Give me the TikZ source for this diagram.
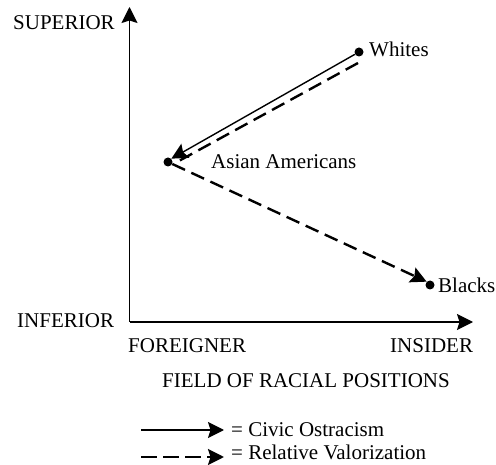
\documentclass[tikz,border=0pt]{standalone}
\usepackage{fontspec}
\setmainfont{Liberation Serif}
\usetikzlibrary{arrows.meta}
\begin{document}
\begin{tikzpicture}[x=1pt,y=-1pt,
  every node/.style={font=\fontsize{21}{24}\selectfont,inner sep=0pt},
  tip/.style={-{Stealth[length=16pt,width=16pt,inset=2.5pt]}},
  dot/.style={circle,fill,minimum size=9pt,inner sep=0pt},
  dash line/.style={line width=2.4pt,dash pattern=on 14pt off 7pt}]
  \useasboundingbox (0,0) rectangle (496,465);
  % axes
  \coordinate (origin) at (129.5,322);
  \coordinate (ytop) at (129.5,7);
  \coordinate (xend) at (473,322);
  \draw[tip,line width=1.3pt] (origin) -- (ytop);
  \draw[tip,line width=1.3pt] (origin) -- (xend);
  \node[anchor=base west] (sup) at (13,30) {SUPERIOR};
  \node[anchor=base west] (inf) at (17,328) {INFERIOR};
  \node[anchor=base west] (for) at (128,353) {FOREIGNER};
  \node[anchor=base west] (ins) at (390,353) {INSIDER};
  \node[anchor=base west] (field) at (162,388) {FIELD OF RACIAL POSITIONS};
  % groups
  \node[dot] (whites) at (359,52) {};
  \node[dot] (asian) at (168,162) {};
  \node[dot] (blacks) at (430,285) {};
  \node[anchor=base west] (whitesL) at (369,57) {Whites};
  \node[anchor=base west] (asianL) at (211,169) {Asian Americans};
  \node[anchor=base west] (blacksL) at (438,293) {Blacks};
  \coordinate (wd) at (358,63);
  \coordinate (ad) at (177,162);
  \draw[tip,line width=1.4pt] (whites) -- (asian.north east);
  \draw[dash line] (wd) -- (ad);
  \draw[tip,dash line] (asian) -- (blacks.north west);
  % legend
  \coordinate (l1) at (141,430);
  \coordinate (l1e) at (224,430);
  \coordinate (l2) at (141,457);
  \coordinate (l2e) at (224,457);
  \draw[tip,line width=1.4pt] (l1) -- (l1e);
  \draw[tip,dash line,dash pattern=on 16pt off 6pt] (l2) -- (l2e);
  \node[anchor=base west] (civic) at (231,437) {= Civic Ostracism};
  \node[anchor=base west] (rel) at (231,460) {= Relative Valorization};
\end{tikzpicture}
\end{document}
